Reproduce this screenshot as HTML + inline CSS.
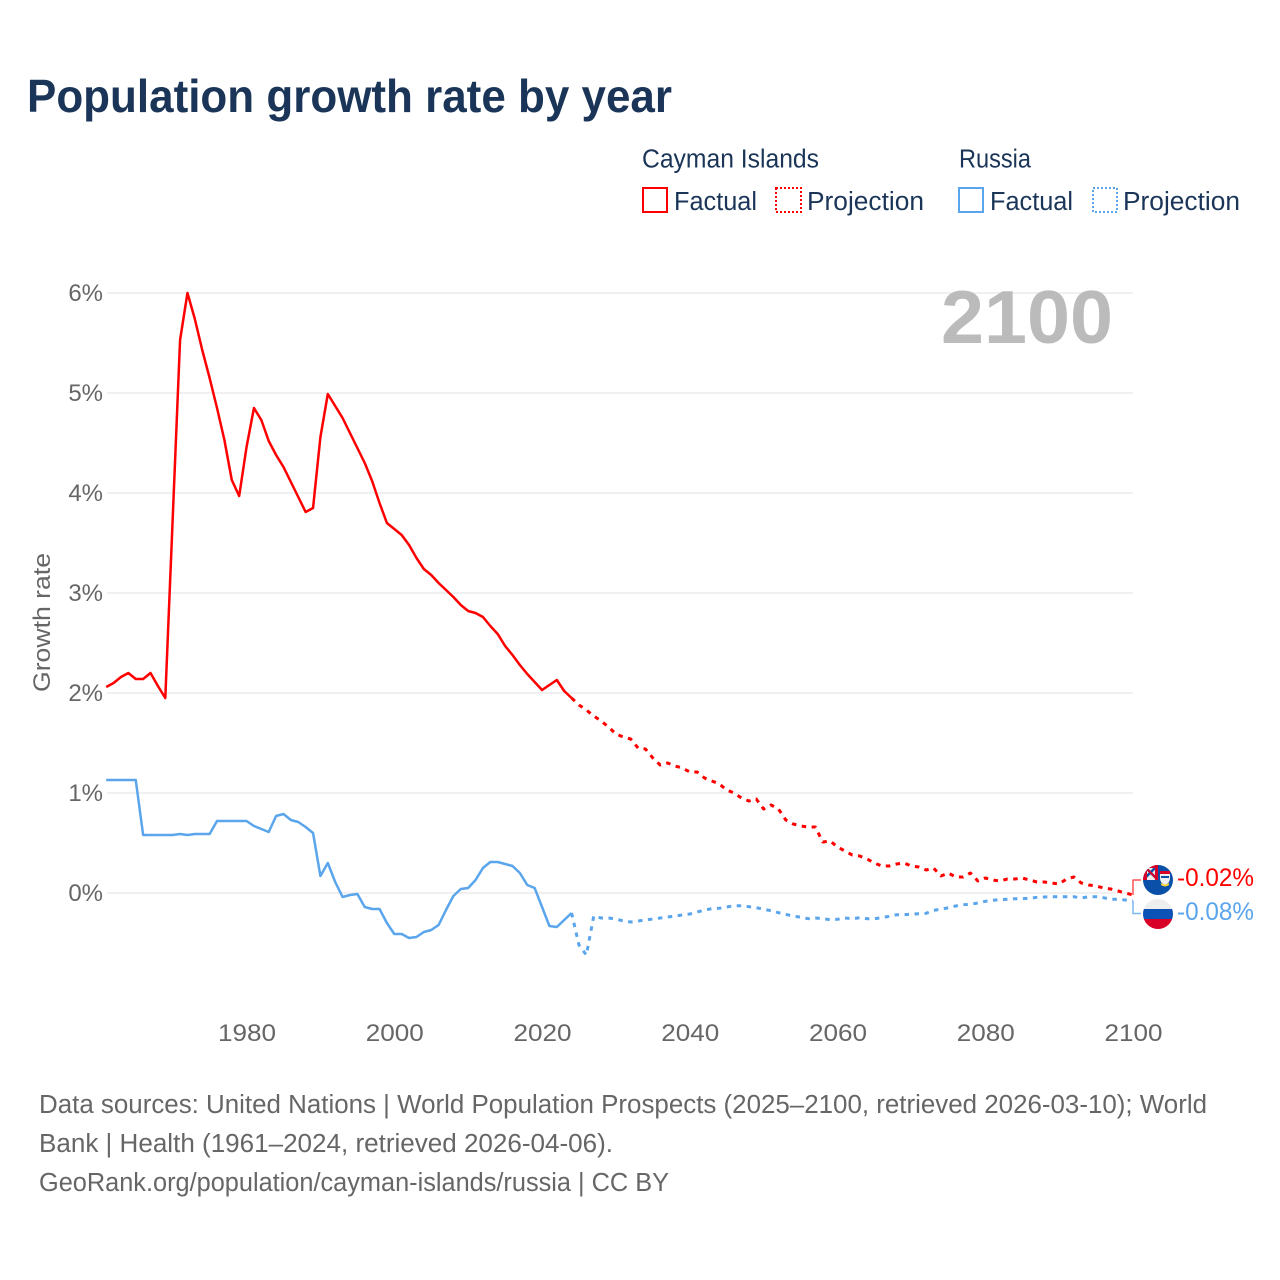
<!DOCTYPE html>
<html lang="en">
<head>
<meta charset="utf-8">
<title>Population growth rate by year</title>
<style>
html,body{margin:0;padding:0;background:#fff;width:1280px;height:1280px;overflow:hidden}
svg{display:block}
text{font-family:"Liberation Sans",sans-serif}
.ax{fill:#666;font-size:24px}
.ft{fill:#666;font-size:25.5px}
.lg{fill:#1a3557;font-size:25.5px}
</style>
</head>
<body>
<svg id="chart" xmlns="http://www.w3.org/2000/svg" width="1280" height="1280" viewBox="0 0 1280 1280">
  <text x="27" y="112" font-size="46" font-weight="700" fill="#1a3557" textLength="645" lengthAdjust="spacingAndGlyphs">Population growth rate by year</text>

  <g>
    <text class="lg" x="642" y="167.5" textLength="177" lengthAdjust="spacingAndGlyphs">Cayman Islands</text>
    <text class="lg" x="959" y="167.5" textLength="72" lengthAdjust="spacingAndGlyphs">Russia</text>
    <rect x="643" y="188" width="24" height="24" fill="none" stroke="#ff0000" stroke-width="2"/>
    <text class="lg" x="674" y="210" textLength="83" lengthAdjust="spacingAndGlyphs">Factual</text>
    <rect x="776" y="188" width="25" height="24" fill="none" stroke="#ff0000" stroke-width="2" stroke-dasharray="2 2"/>
    <text class="lg" x="807" y="210" textLength="117" lengthAdjust="spacingAndGlyphs">Projection</text>
    <rect x="959" y="188" width="24" height="24" fill="none" stroke="#5aa5ec" stroke-width="2"/>
    <text class="lg" x="990" y="210" textLength="83" lengthAdjust="spacingAndGlyphs">Factual</text>
    <rect x="1093" y="188" width="24" height="24" fill="none" stroke="#5aa5ec" stroke-width="2" stroke-dasharray="2 2"/>
    <text class="lg" x="1123" y="210" textLength="117" lengthAdjust="spacingAndGlyphs">Projection</text>
  </g>

  <g id="grid"></g>
  <g id="yTicks"></g>
  <g id="xTicks"></g>

  <text class="ax" transform="translate(50,692) rotate(-90)" x="0" y="0" textLength="139" lengthAdjust="spacingAndGlyphs">Growth rate</text>
  <text x="941" y="343" font-size="75" font-weight="700" fill="#bbbbbb" textLength="172" lengthAdjust="spacingAndGlyphs">2100</text>

  <g id="series"></g>

  <defs>
    <clipPath id="clipFlagA"><circle cx="1158" cy="880" r="15"/></clipPath>
    <clipPath id="clipFlagB"><circle cx="1158" cy="914" r="15"/></clipPath>
  </defs>
  <g clip-path="url(#clipFlagA)">
    <rect x="1143" y="865" width="30" height="30" fill="#0a4fa8"/>
    <rect x="1143" y="865" width="15" height="15" fill="#eeeeee"/>
    <path d="M1143 865L1158 880M1158 865L1143 880" stroke="#0a4fa8" stroke-width="2.5"/>
    <rect x="1143" y="865" width="15" height="3" fill="#d80027"/>
    <path d="M1146 868L1156 878" stroke="#d80027" stroke-width="2"/>
    <rect x="1143" y="870" width="4" height="10" fill="#d80027"/>
    <rect x="1155" y="865" width="3" height="15" fill="#d80027"/>
    <path d="M1160 871h10v7q0 5 -5 7q-5 -2 -5 -7z" fill="#eeeeee"/>
    <rect x="1160" y="871" width="10" height="3" fill="#d80027"/>
    <path d="M1161 883q4 3 8 0v2q-4 3 -8 0z" fill="#ffd43a"/>
    <path d="M1161 876h8v2h-8z" fill="#0a4fa8"/>
  </g>
  <g clip-path="url(#clipFlagB)">
    <rect x="1143" y="899" width="30" height="10" fill="#eeeeee"/>
    <rect x="1143" y="909" width="30" height="10" fill="#0a52b5"/>
    <rect x="1143" y="919" width="30" height="10" fill="#d80027"/>
  </g>

  <text x="1177" y="886" font-size="25" fill="#ff0000" textLength="77" lengthAdjust="spacingAndGlyphs">-0.02%</text>
  <text x="1177" y="920" font-size="25" fill="#5aa5ec" textLength="77" lengthAdjust="spacingAndGlyphs">-0.08%</text>

  <g>
    <text class="ft" x="39" y="1113" textLength="1168" lengthAdjust="spacingAndGlyphs">Data sources: United Nations | World Population Prospects (2025–2100, retrieved 2026-03-10); World</text>
    <text class="ft" x="39" y="1152" textLength="574" lengthAdjust="spacingAndGlyphs">Bank | Health (1961–2024, retrieved 2026-04-06).</text>
    <text class="ft" x="39" y="1191" textLength="630" lengthAdjust="spacingAndGlyphs">GeoRank.org/population/cayman-islands/russia | CC BY</text>
  </g>
</svg>

<script>
const yTickValues = [0, 1, 2, 3, 4, 5, 6];
const yTickLabels = ["0%", "1%", "2%", "3%", "4%", "5%", "6%"];
const xTickValues = [1980, 2000, 2020, 2040, 2060, 2080, 2100];
const xTickLabels = ["1980", "2000", "2020", "2040", "2060", "2080", "2100"];

const factualStartYear = 1961;
const projectionStartYear = 2024;

// 1961-2024
const caymanFactual = [2.06,2.10,2.16,2.20,2.14,2.14,2.20,2.07,1.95,3.74,5.53,6.00,5.74,5.43,5.15,4.85,4.53,4.13,3.97,4.46,
  4.85,4.73,4.52,4.38,4.26,4.11,3.96,3.81,3.85,4.56,4.99,4.87,4.75,4.60,4.45,4.30,4.12,3.90,3.70,3.64,
  3.58,3.48,3.35,3.24,3.18,3.10,3.03,2.96,2.88,2.82,2.80,2.76,2.67,2.59,2.47,2.38,2.28,2.19,2.11,2.03,
  2.08,2.13,2.02,1.95];
// 2024-2100
const caymanProjection = [1.95,1.88,1.83,1.77,1.72,1.66,1.59,1.56,1.54,1.45,1.44,1.35,1.28,1.30,1.27,1.25,1.21,1.21,1.15,1.12,
  1.09,1.03,1.00,0.95,0.92,0.94,0.84,0.88,0.84,0.73,0.69,0.67,0.66,0.66,0.51,0.52,0.46,0.42,0.38,0.37,
  0.34,0.30,0.27,0.27,0.29,0.30,0.27,0.26,0.23,0.25,0.17,0.20,0.16,0.16,0.20,0.12,0.15,0.13,0.12,0.14,
  0.14,0.15,0.13,0.11,0.11,0.10,0.09,0.14,0.16,0.10,0.08,0.07,0.05,0.04,0.02,0.00,-0.02];
// 1961-2024
const russiaFactual = [1.13,1.13,1.13,1.13,1.13,0.58,0.58,0.58,0.58,0.58,0.59,0.58,0.59,0.59,0.59,0.72,0.72,0.72,0.72,0.72,
  0.67,0.64,0.61,0.77,0.79,0.73,0.71,0.66,0.60,0.17,0.30,0.11,-0.04,-0.02,-0.01,-0.14,-0.16,-0.16,-0.30,-0.41,
  -0.41,-0.45,-0.44,-0.39,-0.37,-0.32,-0.17,-0.03,0.04,0.05,0.13,0.25,0.31,0.31,0.29,0.27,0.20,0.08,0.05,-0.14,
  -0.33,-0.34,-0.27,-0.20];
// 2024-2100
const russiaProjection = [-0.20,-0.52,-0.62,-0.23,-0.25,-0.25,-0.26,-0.28,-0.29,-0.28,-0.27,-0.26,-0.25,-0.24,-0.23,-0.22,-0.21,-0.19,-0.17,-0.157,
  -0.153,-0.14,-0.127,-0.127,-0.137,-0.147,-0.163,-0.177,-0.197,-0.213,-0.233,-0.24,-0.257,-0.25,-0.257,-0.267,-0.263,-0.25,-0.257,-0.247,
  -0.257,-0.257,-0.247,-0.233,-0.217,-0.217,-0.213,-0.207,-0.203,-0.173,-0.163,-0.147,-0.13,-0.117,-0.113,-0.10,-0.083,-0.073,-0.067,-0.063,
  -0.057,-0.057,-0.053,-0.043,-0.04,-0.037,-0.037,-0.037,-0.037,-0.05,-0.037,-0.037,-0.047,-0.063,-0.063,-0.07,-0.08];

const NS = 'http://www.w3.org/2000/svg';
const plotLeft = 106.2, plotRight = 1133, yearMin = 1961, yearMax = 2100;
const zeroY = 893, pxPerPercent = 100;
function xScale(year) { return plotLeft + (year - yearMin) * (plotRight - plotLeft) / (yearMax - yearMin); }
function yScale(v) { return zeroY - v * pxPerPercent; }
function pathFrom(values, startYear) {
  return values.map(function (v, i) {
    return (i ? 'L' : 'M') + xScale(startYear + i).toFixed(2) + ' ' + yScale(v).toFixed(2);
  }).join('');
}

const gridGroup = document.getElementById('grid');
const yTickGroup = document.getElementById('yTicks');
const xTickGroup = document.getElementById('xTicks');
const seriesGroup = document.getElementById('series');

yTickValues.forEach(function (v, i) {
  const line = document.createElementNS(NS, 'line');
  
  
  line.setAttribute('x1', 107);
  line.setAttribute('x2', plotRight);
  line.setAttribute('y1', yScale(v));
  line.setAttribute('y2', yScale(v));
  line.setAttribute('stroke', '#ececec');
  line.setAttribute('stroke-width', '1.5');
  gridGroup.appendChild(line);

  const label = document.createElementNS(NS, 'text');
  
  
  label.setAttribute('class', 'ax');
  label.setAttribute('x', 103);
  label.setAttribute('y', yScale(v) + 8);
  label.setAttribute('text-anchor', 'end');
  label.textContent = yTickLabels[i];
  yTickGroup.appendChild(label);
});

xTickValues.forEach(function (year, i) {
  const label = document.createElementNS(NS, 'text');
  
  
  label.setAttribute('class', 'ax');
  label.setAttribute('x', xScale(year) - 28.5);
  label.setAttribute('y', 1041);
  label.setAttribute('textLength', '58');
  label.setAttribute('lengthAdjust', 'spacingAndGlyphs');
  label.textContent = xTickLabels[i];
  xTickGroup.appendChild(label);
});

function addLine(d, color, dashed) {
  const p = document.createElementNS(NS, 'path');
  p.setAttribute('d', d);
  p.setAttribute('fill', 'none');
  p.setAttribute('stroke', color);
  p.setAttribute('stroke-width', '2.5');
  p.setAttribute('stroke-linejoin', 'round');
  if (dashed) { p.setAttribute('stroke-dasharray', '4.5 5.5'); }
  seriesGroup.appendChild(p);
  return p;
}

const caymanFactualLine = addLine(pathFrom(caymanFactual, factualStartYear), '#ff0000', false);



const caymanProjectionLine = addLine(pathFrom(caymanProjection, projectionStartYear), '#ff0000', true);


caymanProjectionLine.setAttribute('stroke-width', '3');

const russiaFactualLine = addLine(pathFrom(russiaFactual, factualStartYear), '#5aa5ec', false);



const russiaProjectionLine = addLine(pathFrom(russiaProjection, projectionStartYear), '#5aa5ec', true);


russiaProjectionLine.setAttribute('stroke-width', '3');

const caymanEnd = caymanProjection[caymanProjection.length - 1];
const russiaEnd = russiaProjection[russiaProjection.length - 1];

const caymanLeader = addLine('M' + xScale(2100) + ' ' + yScale(caymanEnd) + 'V880H1141', '#ff5555', false);


caymanLeader.setAttribute('stroke-width', '1.5');

const russiaLeader = addLine('M' + xScale(2100) + ' ' + yScale(russiaEnd) + 'V913.5H1141', '#7db8f0', false);


russiaLeader.setAttribute('stroke-width', '1.5');
</script>
</body>
</html>
